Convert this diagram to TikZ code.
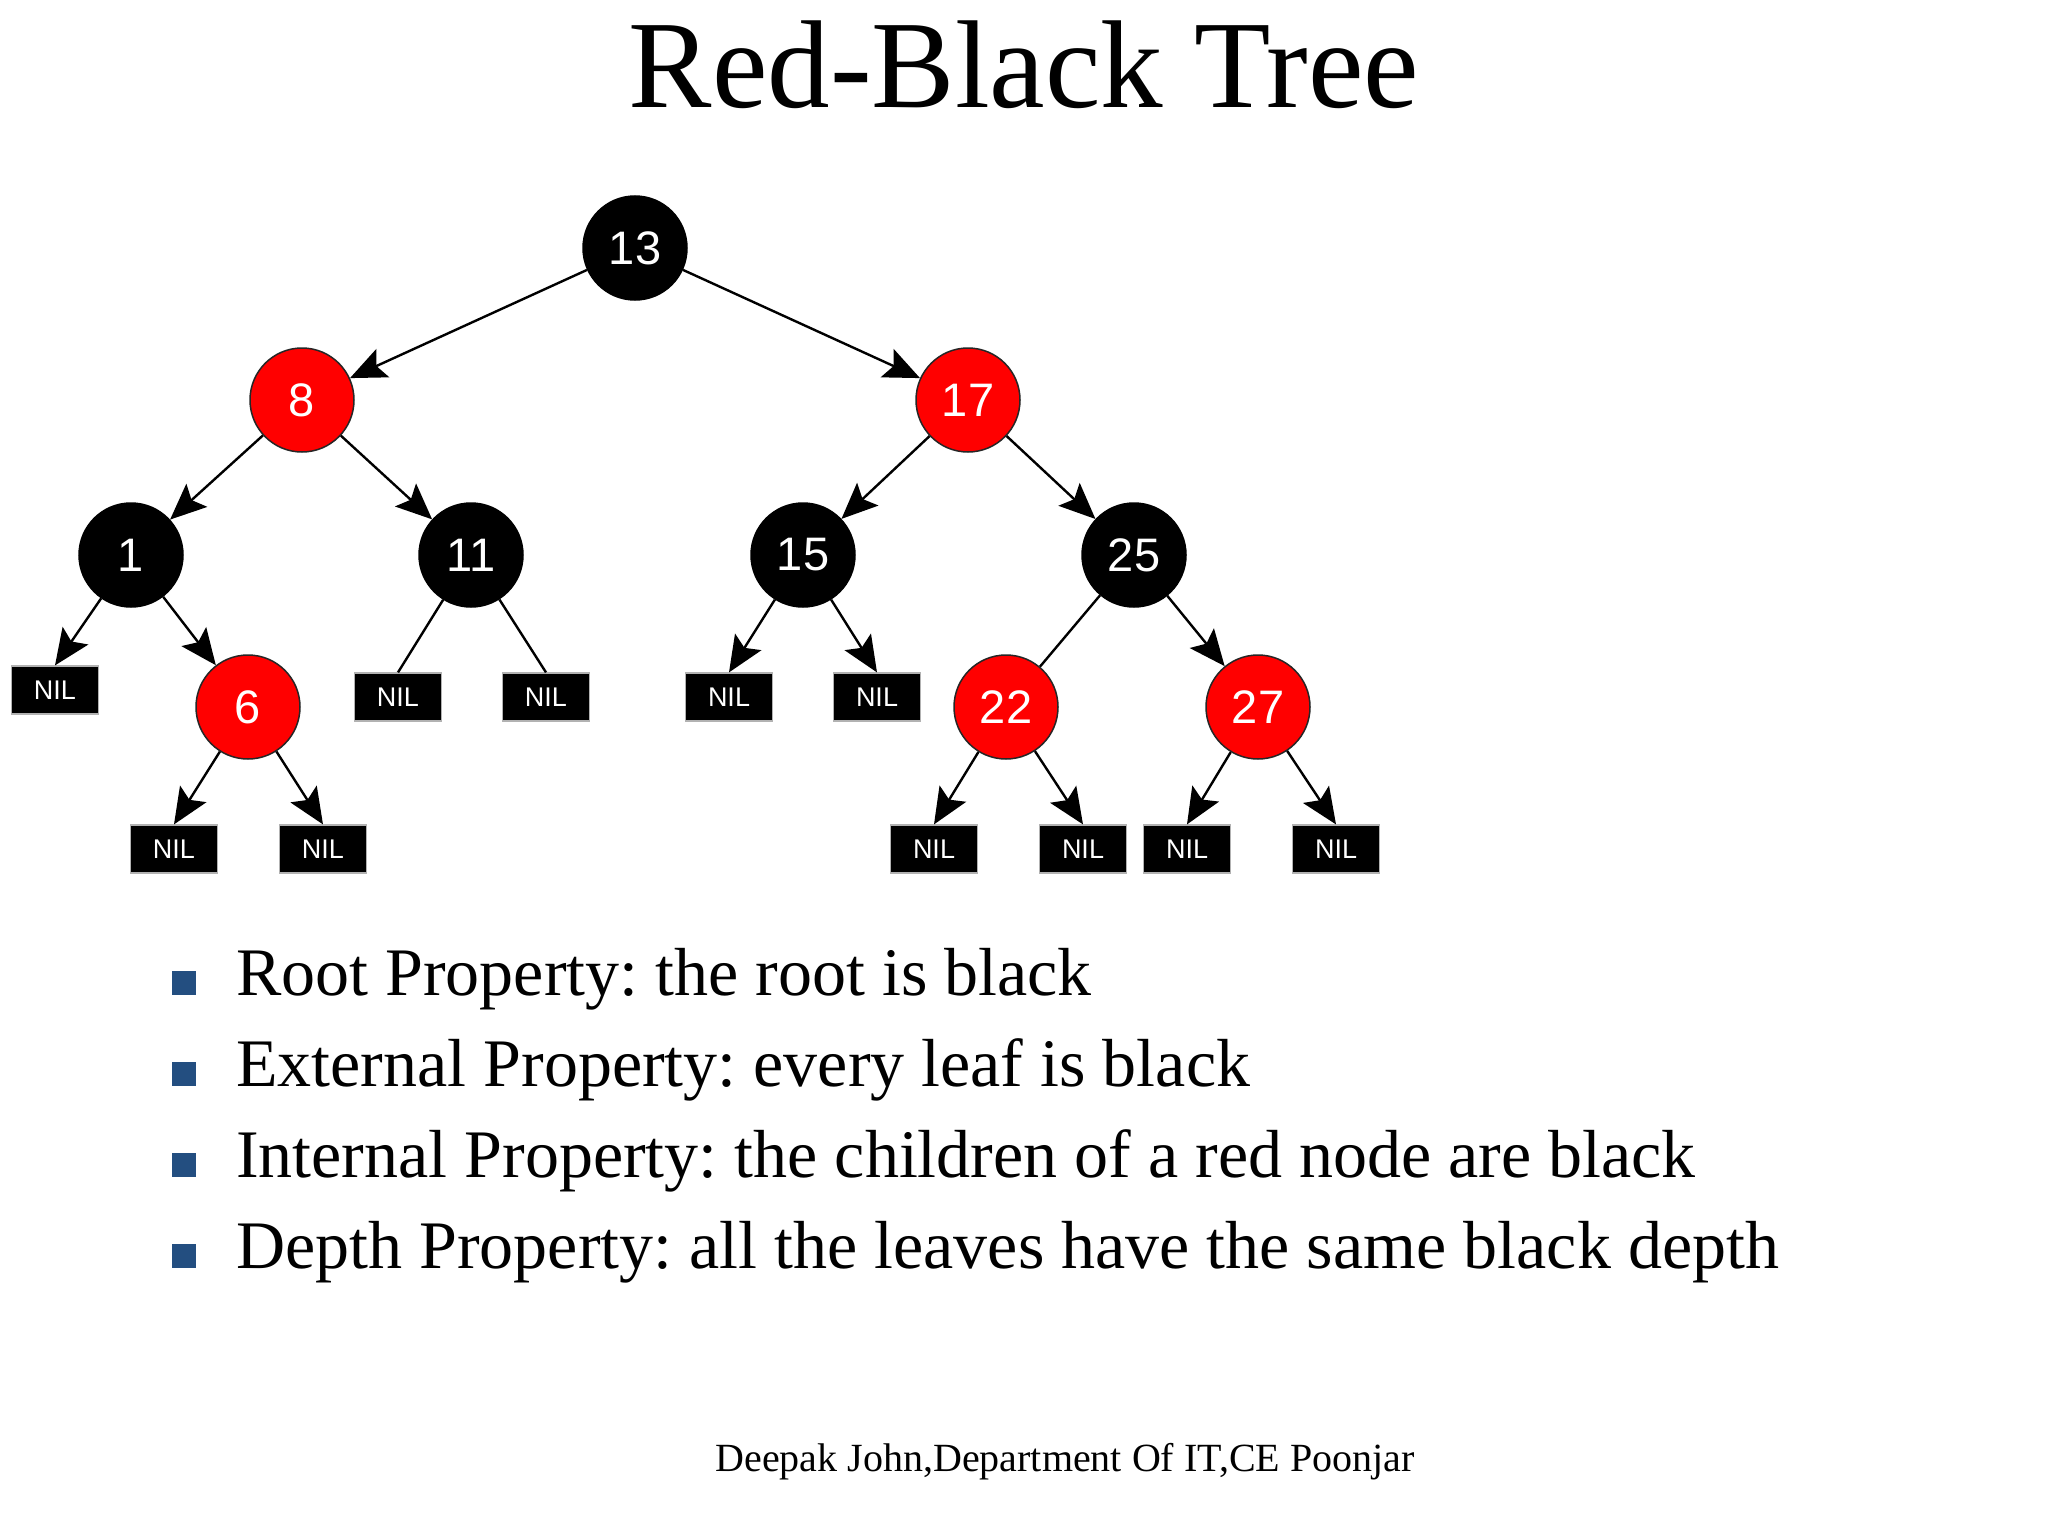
\documentclass[tikz,border=0pt]{standalone}
\usepackage{fontspec}
\setmainfont{Liberation Serif}
\newfontfamily\nodefont{Liberation Sans}
\usetikzlibrary{arrows.meta}
\definecolor{bulletblue}{HTML}{234E80}
\definecolor{rbred}{HTML}{FF0000}
\begin{document}
\frenchspacing
\begin{tikzpicture}[x=1pt,y=-1pt,
  blk/.style={circle, fill=black, draw=black, line width=1.5, minimum size=104, inner sep=0,
    text=white, font=\nodefont\fontsize{47}{50}\selectfont},
  rd/.style={blk, fill=rbred, draw=black!85},
  nil/.style={rectangle, fill=black, draw=gray!60, line width=1.2, minimum width=87, minimum height=48,
    inner sep=0, text=white, font=\nodefont\fontsize{27}{30}\selectfont},
  edge/.style={line width=2.4, draw=black},
  arr/.style={edge, -{Stealth[length=36, width=31, inset=7]}},
  bullet/.style={rectangle, fill=bulletblue, minimum size=24, inner sep=0, anchor=south west},
  prop/.style={anchor=base west, inner sep=0, font=\fontsize{68}{80}\selectfont}
]
\useasboundingbox[fill=white] (0,0) rectangle (2048,1536);

\node[anchor=base, inner sep=0, font=\fontsize{125}{145}\selectfont] (title) at (1024,108) {Red-Black Tree};

% tree nodes
\node[blk] (n13) at (635,248) {13};
\node[rd]  (n8)  at (302,400) {8};
\node[rd]  (n17) at (968,400) {17};
\node[blk] (n1)  at (131,555) {1};
\node[blk] (n11) at (471,555) {11};
\node[blk] (n15) at (803,555) {15};
\node[blk] (n25) at (1134,555) {25};
\node[rd]  (n6)  at (248,707) {6};
\node[rd]  (n22) at (1006,707) {22};
\node[rd]  (n27) at (1258,707) {27};

% NIL leaves
\node[nil] (l1)   at (55,690)   {NIL};
\node[nil] (l11a) at (398,697)  {NIL};
\node[nil] (l11b) at (546,697)  {NIL};
\node[nil] (l15a) at (729,697)  {NIL};
\node[nil] (l15b) at (877,697)  {NIL};
\node[nil] (l6a)  at (174,849)  {NIL};
\node[nil] (l6b)  at (323,849)  {NIL};
\node[nil] (l22a) at (934,849)  {NIL};
\node[nil] (l22b) at (1083,849) {NIL};
\node[nil] (l27a) at (1187,849) {NIL};
\node[nil] (l27b) at (1336,849) {NIL};

% connectors
\draw[arr] (n13) -- (n8);
\draw[arr] (n13) -- (n17);
\draw[arr] (n8) -- (n1);
\draw[arr] (n8) -- (n11);
\draw[arr] (n17) -- (n15);
\draw[arr] (n17) -- (n25);
\draw[arr] (n1) -- (l1.north);
\draw[arr] (n1) -- (n6);
\draw[edge] (n11) -- (l11a.north);
\draw[edge] (n11) -- (l11b.north);
\draw[arr] (n15) -- (l15a.north);
\draw[arr] (n15) -- (l15b.north);
\draw[edge] (n25) -- (n22);
\draw[arr] (n25) -- (n27);
\draw[arr] (n6) -- (l6a.north);
\draw[arr] (n6) -- (l6b.north);
\draw[arr] (n22) -- (l22a.north);
\draw[arr] (n22) -- (l22b.north);
\draw[arr] (n27) -- (l27a.north);
\draw[arr] (n27) -- (l27b.north);

% properties
\node[bullet] (b1) at (172,995) {};
\node[prop] (p1) at (236,995) {Root Property: the root is black};
\node[bullet] (b2) at (172,1086) {};
\node[prop] (p2) at (236,1086) {External Property: every leaf is black};
\node[bullet] (b3) at (172,1177) {};
\node[prop] (p3) at (236,1177) {Internal Property: the children of a red node are black};
\node[bullet] (b4) at (172,1268) {};
\node[prop] (p4) at (236,1268) {Depth Property: all the leaves have the same black depth};

\node[anchor=base, inner sep=0, font=\fontsize{40}{48}\selectfont] (foot) at (1065,1471) {Deepak John,Department Of IT,CE Poonjar};
\end{tikzpicture}
\end{document}
